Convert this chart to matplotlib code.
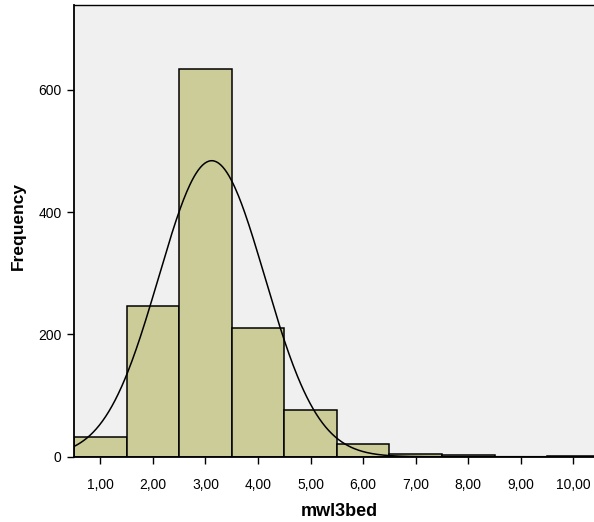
import numpy as np
import matplotlib
matplotlib.use("Agg")
import matplotlib.pyplot as plt

plt.rcParams['font.family'] = ['Liberation Sans', 'DejaVu Sans']

bin_centers = [1, 2, 3, 4, 5, 6, 7, 8, 9, 10]
counts = [32, 247, 634, 210, 76, 20, 4, 2, 0, 1]
fit_mean = 3.12
fit_sd = 1.01
xtick_vals = [1, 2, 3, 4, 5, 6, 7, 8, 9, 10]
xtick_labels = ["1,00", "2,00", "3,00", "4,00", "5,00", "6,00", "7,00", "8,00", "9,00", "10,00"]
ytick_vals = [0, 200, 400, 600]

W, H = 594, 522
fig = plt.figure(figsize=(W/100, H/100), dpi=100)
ax = fig.add_axes([74/W, (H-456.7)/H, 1 - 74/W, (456.7-5)/H])
ax.set_facecolor('#F0F0F0')

ax.bar(bin_centers, counts, width=1.0, color='#CCCC99', edgecolor='black', linewidth=1.1, zorder=2)

n_total = sum(counts)
xs = np.linspace(0.5, 10.5, 500)
ys = n_total * 1.0 / (fit_sd * np.sqrt(2 * np.pi)) * np.exp(-0.5 * ((xs - fit_mean) / fit_sd) ** 2)
ax.plot(xs, ys, color='black', linewidth=1.1, zorder=3)

ax.set_xlim(0.5, 10.39)
ax.set_ylim(0, 739)
ax.set_xticks(xtick_vals)
ax.set_xticklabels(xtick_labels)
ax.set_yticks(ytick_vals)
ax.set_yticklabels([str(v) for v in ytick_vals])
ax.tick_params(axis='both', direction='out', length=5, width=1, labelsize=10, colors='black')
ax.tick_params(axis='x', pad=10)
ax.tick_params(axis='y', pad=4)
for s in ['left', 'bottom']:
    ax.spines[s].set_linewidth(1.3)
ax.spines['top'].set_linewidth(1.0)
ax.spines['right'].set_visible(False)

fig.text(339/W, (H-516.5)/H, 'mwl3bed', fontsize=13, fontweight='bold',
         ha='center', va='baseline')
fig.text(18/W, (H-225.5)/H, 'Frequency', fontsize=12.5, fontweight='bold',
         ha='center', va='center', rotation=90)

fig.savefig('out.png', dpi=100)
